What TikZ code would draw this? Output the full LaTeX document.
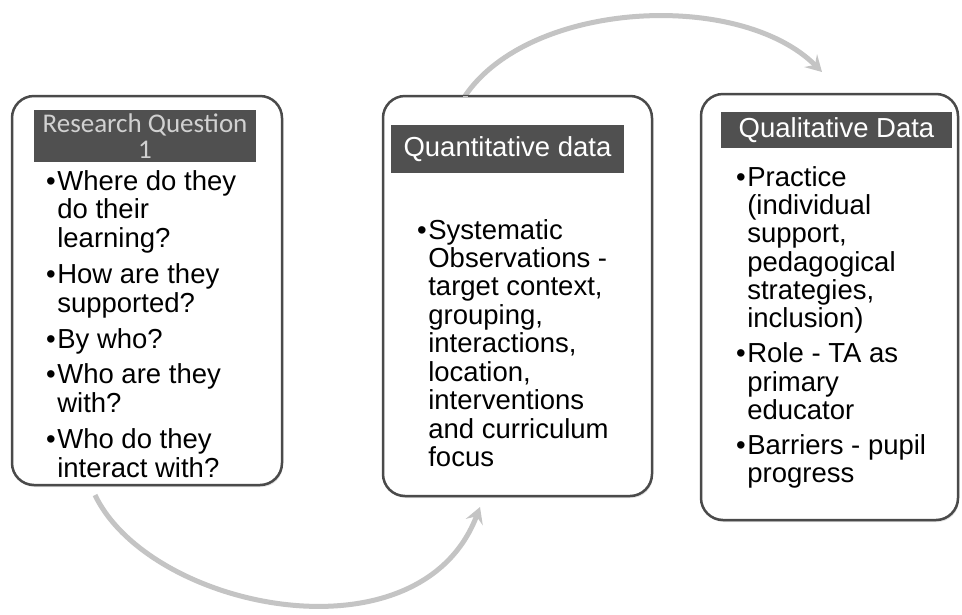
\documentclass[tikz,border=0pt]{standalone}
\usepackage{fontspec}
\setmainfont{Liberation Sans}
\newfontfamily\calib{Carlito}
\usetikzlibrary{arrows.meta,shadows}
\definecolor{boxline}{HTML}{4A4A4A}
\definecolor{headfill}{HTML}{505050}
\definecolor{arrowgray}{HTML}{C4C4C4}
\tikzset{
  panel/.style={draw=boxline, line width=2.5pt, rounded corners=22pt, fill=white,
    drop shadow={opacity=0.25, shadow xshift=1pt, shadow yshift=-2pt}},
  header/.style={fill=headfill, inner sep=0pt, align=center},
  bodytext/.style={inner sep=0pt, anchor=base west, align=left},
  flow/.style={draw=arrowgray, line width=5pt, -{Stealth[length=16pt,width=18pt,inset=6pt]}}
}
\newcommand{\bul}{\textbullet}
\begin{document}
\begin{tikzpicture}[x=1pt,y=-1pt]
\useasboundingbox (0,0) rectangle (962,614);
\fill[white] (0,0) rectangle (962,614);

% connector coordinates
\coordinate (a1s) at (95,495);
\coordinate (a1e) at (480,507);
\coordinate (a2s) at (465,96);
\coordinate (a2e) at (822,72);

\draw[flow] (a1s) .. controls (150,610) and (420,665) .. (a1e);
\draw[flow] (a2s) .. controls (530,0) and (740,-10) .. (a2e);

% panels
\node[panel, minimum width=270pt, minimum height=389pt] (b1) at (147,290.5) {};
\node[panel, minimum width=269pt, minimum height=400pt] (b2) at (517.5,296) {};
\node[panel, minimum width=257pt, minimum height=426pt] (b3) at (829.5,307) {};
\draw[arrowgray, line width=5pt] (a2s) -- ++(0,1);

% headers
\node[header, minimum width=222pt, minimum height=52pt, text=white!82!black,
  font=\calib\fontsize{27}{26}\selectfont] (h1) at (145,136) {Research Question\\1};
\node[header, minimum width=233pt, minimum height=48pt, text=white,
  font=\fontsize{27.5}{29}\selectfont] (h2) at (507.5,149) {Quantitative data};
\node[header, minimum width=231pt, minimum height=36pt, text=white,
  font=\fontsize{27.5}{29}\selectfont] (h3) at (836.5,130) {Qualitative Data};

% bodies
\node[bodytext] (t1) at (46,190) {\fontsize{27.5}{28.8}\selectfont
\begin{tabular}[t]{@{}l@{\hspace{1.5pt}}l@{}}
\bul & Where do they\\
 & do their\\
 & learning?\\[7pt]
\bul & How are they\\
 & supported?\\[7pt]
\bul & By who?\\[7pt]
\bul & Who are they\\
 & with?\\[7pt]
\bul & Who do they\\
 & interact with?
\end{tabular}};

\node[bodytext] (t2) at (417,239) {\fontsize{27.5}{28.4}\selectfont
\begin{tabular}[t]{@{}l@{\hspace{1.5pt}}l@{}}
\bul & Systematic\\
 & Observations -\\
 & target context,\\
 & grouping,\\
 & interactions,\\
 & location,\\
 & interventions\\
 & and curriculum\\
 & focus
\end{tabular}};

\node[bodytext] (t3) at (736,186) {\fontsize{27.5}{28.3}\selectfont
\begin{tabular}[t]{@{}l@{\hspace{1.5pt}}l@{}}
\bul & Practice\\
 & (individual\\
 & support,\\
 & pedagogical\\
 & strategies,\\
 & inclusion)\\[6.5pt]
\bul & Role - TA as\\
 & primary\\
 & educator\\[6.5pt]
\bul & Barriers - pupil\\
 & progress
\end{tabular}};
\end{tikzpicture}
\end{document}
